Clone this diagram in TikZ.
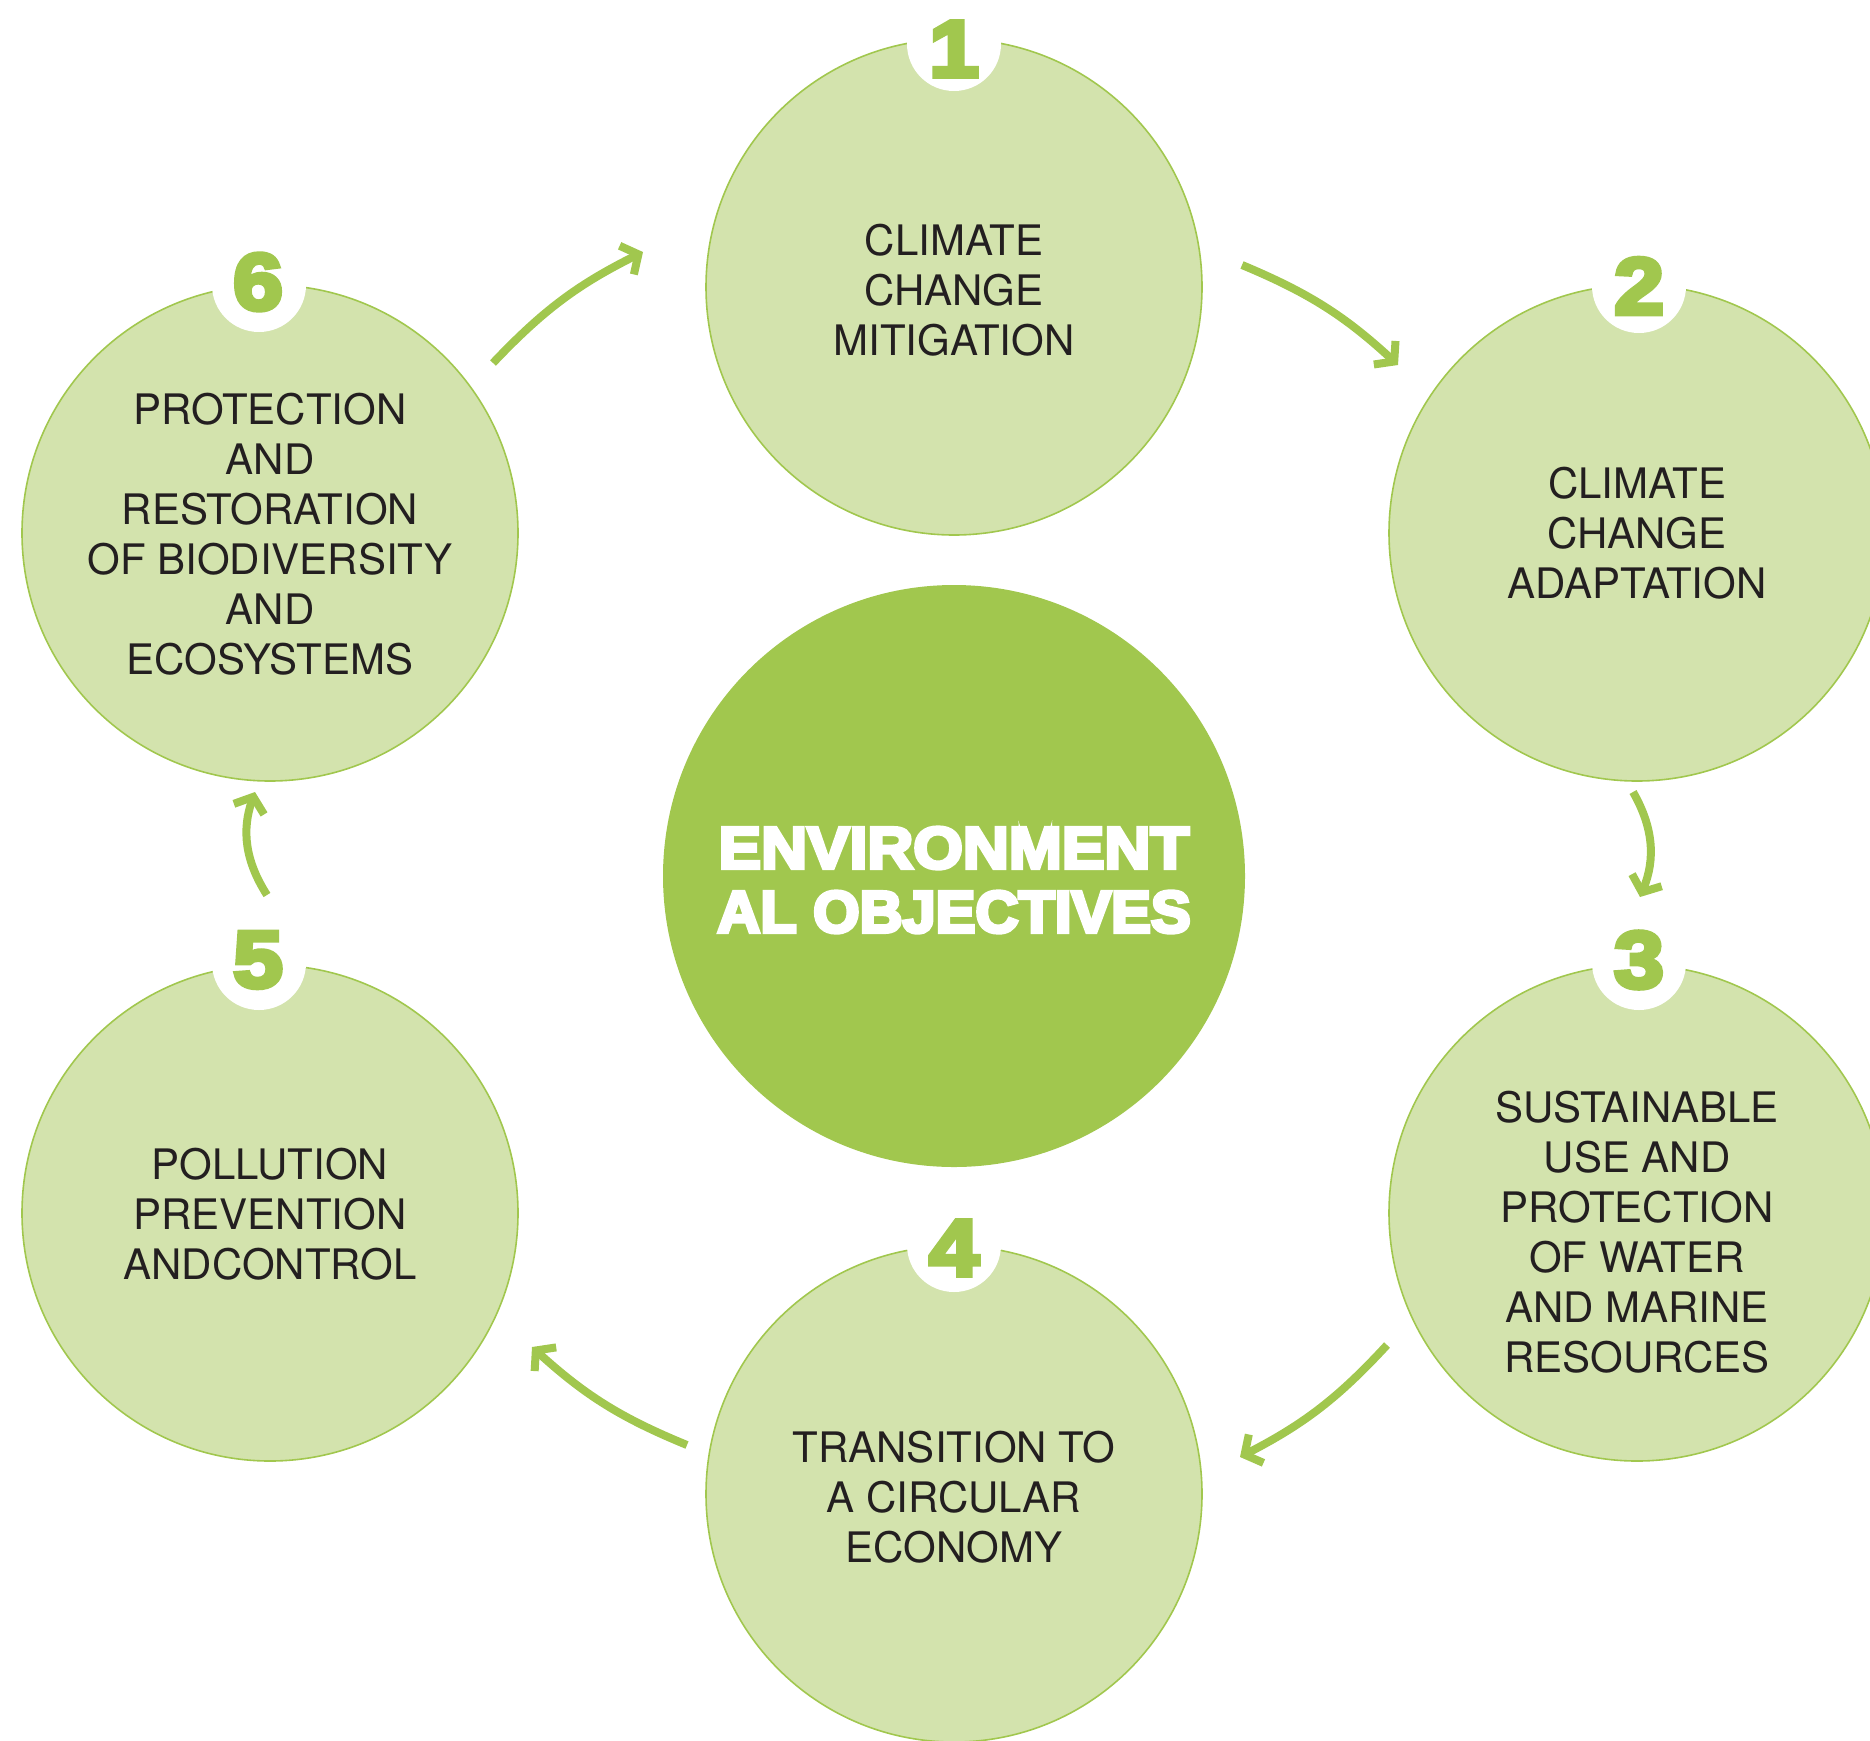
\documentclass[tikz,border=0pt]{standalone}
\usepackage{fontspec}
\setmainfont{TeX Gyre Heros}
\newfontfamily\heavy{Liberation Sans Bold}[FakeBold=6, FakeStretch=1.08]
\newfontfamily\heavyb{Liberation Sans Bold}[FakeBold=6, FakeStretch=1.01]
\newfontfamily\heavynum{Liberation Sans Bold}[FakeBold=6, FakeStretch=1.12]
\usetikzlibrary{arrows.meta}
\definecolor{gdark}{HTML}{A1C74E}
\definecolor{glight}{HTML}{D3E3AD}
\definecolor{txt}{HTML}{231F20}
\begin{document}
\begin{tikzpicture}[x=1pt,y=-1pt,
  obj/.style={circle, draw=gdark, line width=1.6pt, fill=glight, minimum size=496pt, inner sep=0pt},
  badge/.style={circle, fill=white, minimum size=94pt, inner sep=0pt},
  num/.style={text=gdark, inner sep=0pt, font=\heavynum\fontsize{80}{80}\selectfont},
  lbl/.style={align=center, text=txt, inner sep=0pt, font=\fontsize{42}{50}\selectfont},
  arr/.style={draw=gdark, line width=8pt, -{Straight Barb[length=13pt,width=32pt]}}
]
\useasboundingbox (0,0) rectangle (1870,1740);
\clip (0,0) rectangle (1870,1740);

% objective circles
\node[obj] (c1) at (954,287) {};
\node[obj] (c2) at (1637,533) {};
\node[obj] (c3) at (1637,1213) {};
\node[obj] (c4) at (954,1494) {};
\node[obj] (c5) at (270,1213) {};
\node[obj] (c6) at (270,533) {};

% centre
\node[circle, fill=gdark, minimum size=582pt, inner sep=0pt] (c0) at (954,876) {};
\node[align=center, text=white, inner sep=0pt, font=\fontsize{59}{64}\selectfont] (t0) at (954,880) {{\heavy ENVIRONMENT}\\{\heavyb AL OBJECTIVES}};

% badges
\node[badge] (b1) at (954,44) {};
\node[badge] (b2) at (1639,286) {};
\node[badge] (b3) at (1639,963) {};
\node[badge] (b4) at (954,1245) {};
\node[badge] (b5) at (259,963) {};
\node[badge] (b6) at (259,285) {};
\node[num] (n1) at (954,49) {1};
\node[num] (n2) at (1639,286) {2};
\node[num] (n3) at (1639,960) {3};
\node[num] (n4) at (954,1248) {4};
\node[num] (n5) at (258,960) {5};
\node[num] (n6) at (258,282) {6};

% labels
\node[lbl] (t1) at (954,290) {CLIMATE\\CHANGE\\MITIGATION};
\node[lbl] (t2) at (1637,533) {CLIMATE\\CHANGE\\ADAPTATION};
\node[lbl] (t3) at (1637,1232) {SUSTAINABLE\\USE AND\\PROTECTION\\OF WATER\\AND MARINE\\RESOURCES};
\node[lbl] (t4) at (954,1497) {TRANSITION TO\\A CIRCULAR\\ECONOMY};
\node[lbl] (t5) at (270,1214) {POLLUTION\\PREVENTION\\ANDCONTROL};
\node[lbl] (t6) at (270,534) {PROTECTION\\AND\\RESTORATION\\OF BIODIVERSITY\\AND\\ECOSYSTEMS};

% arrows
\coordinate (a61) at (493,363); \coordinate (e61) at (643,252);
\coordinate (a12) at (1242,265); \coordinate (e12) at (1398,365);
\coordinate (a23) at (1633,792); \coordinate (e23) at (1640,897);
\coordinate (a34) at (1387,1345); \coordinate (e34) at (1240,1457);
\coordinate (a45) at (687,1445); \coordinate (e45) at (532,1347);
\coordinate (a56) at (267,895); \coordinate (e56) at (255,792);
\draw[arr] (a61) to[bend left=10] (e61);
\draw[arr] (a12) to[bend left=10] (e12);
\draw[arr] (a23) to[bend left=26] (e23);
\draw[arr] (a34) to[bend left=10] (e34);
\draw[arr] (a45) to[bend left=10] (e45);
\draw[arr] (a56) to[bend left=26] (e56);
\end{tikzpicture}
\end{document}
